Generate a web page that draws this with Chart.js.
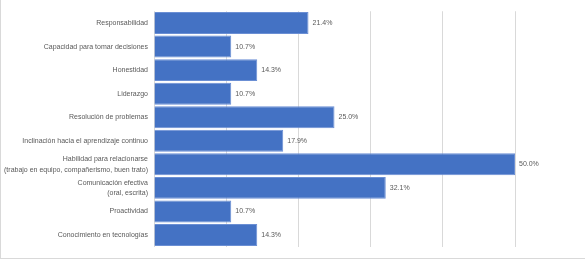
<!DOCTYPE html>
<html>
<head>
<meta charset="utf-8">
<script src="https://cdn.jsdelivr.net/npm/chart.js@4"></script>
<style>
  html, body { margin: 0; padding: 0; background: #fff; }
  #wrap { position: relative; width: 585px; height: 259px; box-sizing: border-box;
          border-left: 1px solid #d9d9d9; border-bottom: 1px solid #d9d9d9; }
</style>
</head>
<body>
<div id="wrap"><canvas id="myChart" width="584" height="258"></canvas></div>
<script>
const categories = [
  "Responsabilidad",
  "Capacidad para tomar decisiones",
  "Honestidad",
  "Liderazgo",
  "Resolución de problemas",
  "Inclinación hacia el aprendizaje continuo",
  ["Habilidad para relacionarse", "(trabajo en equipo, compañerismo, buen trato)"],
  ["Comunicación efectiva", "(oral, escrita)"],
  "Proactividad",
  "Conocimiento en tecnologías"
];
const percentValues = [21.4, 10.7, 14.3, 10.7, 25.0, 17.9, 50.0, 32.1, 10.7, 14.3];
const axisMax = 50;

// little plugin to put the % next to each bar
const barLabels = {
  id: "barLabels",
  afterDatasetsDraw(chart) {
    const c = chart.ctx;
    const meta = chart.getDatasetMeta(0);
    c.save();
    c.font = "7px 'Liberation Sans'";
    c.fillStyle = "#595959";
    c.textBaseline = "middle";
    meta.data.forEach((bar, i) => {
      c.fillText(percentValues[i].toFixed(1) + "%", bar.x + 4, bar.y);
    });
    c.restore();
  }
};

new Chart(document.getElementById("myChart"), {
  type: "bar",
  data: {
    labels: categories,
    datasets: [{
      data: percentValues,
      backgroundColor: "#4472c4",
      borderColor: "#6b8fd4",
      borderWidth: 1,
      categoryPercentage: 1,
      barPercentage: 0.93
    }]
  },
  options: {
    indexAxis: "y",
    responsive: false,
    animation: false,
    layout: { padding: { top: 9, right: 70, bottom: 10, left: 0 } },
    plugins: { legend: { display: false }, tooltip: { enabled: false } },
    scales: {
      x: {
        min: 0,
        max: axisMax,
        ticks: { display: false, stepSize: 10 },
        grid: { color: "#d9d9d9", lineWidth: 1, drawTicks: false },
        border: { display: false }
      },
      y: {
        grid: { display: false, drawTicks: false },
        border: { display: false },
        ticks: {
          color: "#595959",
          font: { family: "'Liberation Sans'", size: 7, lineHeight: 1.5 },
          padding: 6,
          autoSkip: false
        },
        afterFit(scale) { scale.width = 153; }
      }
    }
  },
  plugins: [barLabels]
});
</script>
</body>
</html>
